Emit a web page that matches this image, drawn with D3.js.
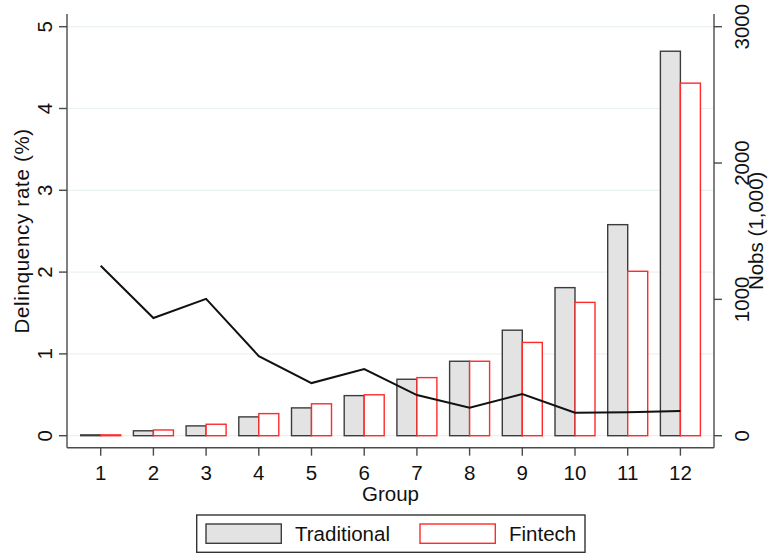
<!DOCTYPE html>
<html>
<head>
<meta charset="utf-8">
<script src="https://cdn.jsdelivr.net/npm/d3@7"></script>
<style>
  html, body { margin: 0; padding: 0; background: #fff; }
  svg { display: block; font-family: "Liberation Sans", Arial, sans-serif; }
</style>
</head>
<body>
<svg id="chart" width="769" height="554"></svg>
<script>
// Groups and series
const groups = [1, 2, 3, 4, 5, 6, 7, 8, 9, 10, 11, 12];
const traditional = [0.01, 0.06, 0.12, 0.23, 0.34, 0.49, 0.69, 0.91, 1.29, 1.81, 2.58, 4.70];
const fintech     = [0.01, 0.07, 0.14, 0.27, 0.39, 0.50, 0.71, 0.91, 1.14, 1.63, 2.01, 4.31];
const nobs        = [1246, 863, 1004, 584, 386, 489, 298, 205, 306, 169, 172, 181];
const leftTicks = [0, 1, 2, 3, 4, 5];
const rightTicks = [0, 1000, 2000, 3000];

const svg = d3.select("#chart");
const plot = { left: 67, right: 714, top: 14, bottom: 447.7 };

const x = d3.scaleLinear().domain([1, 12]).range([100.7, 680.4]);
const yL = d3.scaleLinear().domain([0, 5]).range([435.7, 26.7]);
const yR = d3.scaleLinear().domain([0, 3000]).range([435.7, 26.7]);
const barW = 20;
const axisColor = "#4a4a4a";
const fontSize = 20.5;

// Grid lines
svg.append("g").selectAll("line").data(leftTicks).join("line")
  .attr("x1", plot.left).attr("x2", plot.right)
  .attr("y1", d => yL(d)).attr("y2", d => yL(d))
  .attr("stroke", "#eaf1f3").attr("stroke-width", 1.2);

// Bars
const bars = svg.append("g");
bars.selectAll("rect.trad").data(groups).join("rect")
  .attr("class", "trad")
  .attr("x", d => x(d) - barW)
  .attr("y", (d, i) => yL(traditional[i]))
  .attr("width", barW)
  .attr("height", (d, i) => yL(0) - yL(traditional[i]))
  .attr("fill", "#e3e3e3").attr("stroke", "#3c3c3c").attr("stroke-width", 1.4);
bars.selectAll("rect.fin").data(groups).join("rect")
  .attr("class", "fin")
  .attr("x", d => x(d))
  .attr("y", (d, i) => yL(fintech[i]))
  .attr("width", barW)
  .attr("height", (d, i) => yL(0) - yL(fintech[i]))
  .attr("fill", "#ffffff").attr("stroke", "#ff2a2a").attr("stroke-width", 1.4);

// Nobs line
const line = d3.line().x((d, i) => x(groups[i])).y(d => yR(d));
svg.append("path").datum(nobs)
  .attr("d", line)
  .attr("fill", "none").attr("stroke", "#111").attr("stroke-width", 2);

// Axes
const axes = svg.append("g").attr("stroke", axisColor).attr("stroke-width", 1.4);
axes.append("line").attr("x1", plot.left).attr("x2", plot.left).attr("y1", plot.top).attr("y2", plot.bottom);
axes.append("line").attr("x1", plot.right).attr("x2", plot.right).attr("y1", plot.top).attr("y2", plot.bottom);
axes.append("line").attr("x1", plot.left).attr("x2", plot.right).attr("y1", plot.bottom).attr("y2", plot.bottom);

// Left ticks + labels
axes.selectAll("line.lt").data(leftTicks).join("line").attr("class", "lt")
  .attr("x1", plot.left - 8).attr("x2", plot.left)
  .attr("y1", d => yL(d)).attr("y2", d => yL(d));
svg.append("g").selectAll("text").data(leftTicks).join("text")
  .attr("transform", d => `translate(51.5,${yL(d)}) rotate(-90)`)
  .attr("text-anchor", "middle").attr("font-size", fontSize).attr("fill", "#111")
  .text(d => d);

// Right ticks + labels
axes.selectAll("line.rt").data(rightTicks).join("line").attr("class", "rt")
  .attr("x1", plot.right).attr("x2", plot.right + 8)
  .attr("y1", d => yR(d)).attr("y2", d => yR(d));
svg.append("g").selectAll("text").data(rightTicks).join("text")
  .attr("transform", d => `translate(748.5,${yR(d)}) rotate(-90)`)
  .attr("text-anchor", "middle").attr("font-size", fontSize).attr("fill", "#111")
  .text(d => d);

// Bottom ticks + labels
axes.selectAll("line.bt").data(groups).join("line").attr("class", "bt")
  .attr("x1", d => x(d)).attr("x2", d => x(d))
  .attr("y1", plot.bottom).attr("y2", plot.bottom + 8);
svg.append("g").selectAll("text").data(groups).join("text")
  .attr("x", d => x(d)).attr("y", 479.5)
  .attr("text-anchor", "middle").attr("font-size", fontSize).attr("fill", "#111")
  .text(d => d);

// Axis titles
svg.append("text").attr("x", (plot.left + plot.right) / 2).attr("y", 500.5)
  .attr("text-anchor", "middle").attr("font-size", fontSize).attr("fill", "#111")
  .text("Group");
svg.append("text").attr("transform", `translate(28.5,${(plot.top + plot.bottom) / 2}) rotate(-90)`)
  .attr("text-anchor", "middle").attr("font-size", fontSize).attr("fill", "#111")
  .attr("letter-spacing", 0.7)
  .text("Delinquency rate (%)");
svg.append("text").attr("transform", `translate(763,${(plot.top + plot.bottom) / 2}) rotate(-90)`)
  .attr("text-anchor", "middle").attr("font-size", fontSize).attr("fill", "#111")
  .text("Nobs (1,000)");

// Legend
const legend = svg.append("g");
legend.append("rect").attr("x", 196.7).attr("y", 515).attr("width", 388.3).attr("height", 37.3)
  .attr("fill", "#fff").attr("stroke", "#333").attr("stroke-width", 1.4);
const legendItems = [
  { label: "Traditional", fill: "#e3e3e3", stroke: "#3c3c3c", x: 206 },
  { label: "Fintech", fill: "#ffffff", stroke: "#ff2a2a", x: 420 }
];
legendItems.forEach(it => {
  legend.append("rect").attr("x", it.x).attr("y", 524).attr("width", 75.3).attr("height", 19.3)
    .attr("fill", it.fill).attr("stroke", it.stroke).attr("stroke-width", 1.4);
  legend.append("text").attr("x", it.x + 89).attr("y", 541)
    .attr("font-size", fontSize).attr("fill", "#111").text(it.label);
});
</script>
</body>
</html>
